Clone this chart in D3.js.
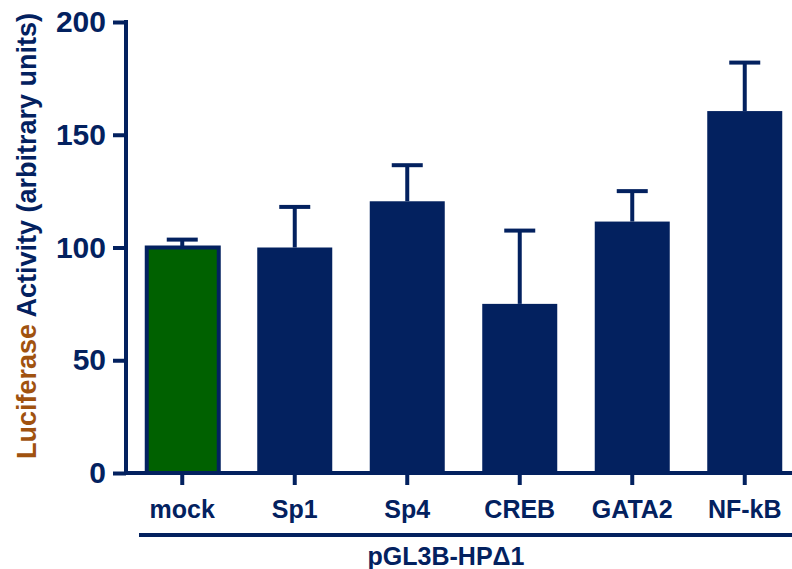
<!DOCTYPE html>
<html>
<head>
<meta charset="utf-8">
<script src="https://cdn.jsdelivr.net/npm/d3@7"></script>
<style>
  html, body { margin: 0; padding: 0; background: #fff; }
  svg { display: block; font-family: "Liberation Sans", Arial, sans-serif; font-weight: bold; }
</style>
</head>
<body>
<svg id="chart" width="792" height="569"></svg>
<script>
// Luciferase reporter activity for pGL3B-HPΔ1 co-transfections
const categories = ["mock", "Sp1", "Sp4", "CREB", "GATA2", "NF-kB"];
const means      = [100, 100, 120.5, 75, 111.5, 160.5];
const errorsUp   = [3.5, 18, 16, 32.5, 13.5, 21.5];
const yTicks     = [0, 50, 100, 150, 200];
const groupLabel = "pGL3B-HPΔ1";

const navy = "#03215F";
const green = "#006100";
const brown = "#A0520F";

const svg = d3.select("#chart");

const y = d3.scaleLinear().domain([0, 200]).range([473, 22]);
const x = d3.scaleBand().domain(categories).range([126, 801])
  .paddingInner(1 / 3).paddingOuter(1 / 6);

// bars
svg.append("g").selectAll("rect")
  .data(categories)
  .join("rect")
  .attr("x", (d, i) => i === 0 ? x(d) + 2 : x(d))
  .attr("width", (d, i) => i === 0 ? x.bandwidth() - 3 : x.bandwidth())
  .attr("y", (d, i) => y(means[i]))
  .attr("height", (d, i) => y(0) - y(means[i]))
  .attr("fill", (d, i) => i === 0 ? green : navy)
  .attr("stroke", navy)
  .attr("stroke-width", (d, i) => i === 0 ? 4 : 0);

// upper error bars
const err = svg.append("g").attr("stroke", navy).attr("stroke-width", 4);
categories.forEach((c, i) => {
  const cx = x(c) + x.bandwidth() / 2;
  err.append("line")
    .attr("x1", cx).attr("x2", cx)
    .attr("y1", y(means[i])).attr("y2", y(means[i] + errorsUp[i]));
  err.append("line")
    .attr("x1", cx - 15.5).attr("x2", cx + 15.5)
    .attr("y1", y(means[i] + errorsUp[i])).attr("y2", y(means[i] + errorsUp[i]));
});

// y axis
const yAxis = svg.append("g")
  .attr("transform", "translate(126,0)")
  .call(d3.axisLeft(y).tickValues(yTicks).tickSize(13).tickSizeOuter(0).tickPadding(7));
yAxis.select(".domain").attr("stroke", navy).attr("stroke-width", 4)
  .attr("d", `M0,${y(200) - 2}V${y(0) + 2}`);
yAxis.selectAll(".tick line").attr("stroke", navy).attr("stroke-width", 4);
yAxis.selectAll(".tick text")
  .attr("fill", navy).attr("font-size", 30).attr("font-weight", "bold")
  .attr("font-family", "Liberation Sans, Arial, sans-serif");

// x axis
const xAxis = svg.append("g")
  .attr("transform", `translate(0,${y(0)})`)
  .call(d3.axisBottom(x).tickSize(12).tickSizeOuter(0).tickPadding(14));
xAxis.select(".domain").attr("stroke", navy).attr("stroke-width", 4)
  .attr("d", "M124,0H792");
xAxis.selectAll(".tick line").attr("stroke", navy).attr("stroke-width", 4);
xAxis.selectAll(".tick text")
  .attr("fill", navy).attr("font-size", 25).attr("font-weight", "bold")
  .attr("font-family", "Liberation Sans, Arial, sans-serif")
  .attr("dy", null)
  .each(function () {
    // centre each label's ink box on a common line
    const t = d3.select(this);
    t.attr("y", 0);
    const b = this.getBBox();
    t.attr("y", 36 - (b.y + b.height / 2));
  });

// group bracket under the categories
svg.append("line")
  .attr("x1", 139).attr("x2", 792)
  .attr("y1", 535).attr("y2", 535)
  .attr("stroke", navy).attr("stroke-width", 4);
svg.append("text")
  .attr("x", 446).attr("y", 565)
  .attr("text-anchor", "middle")
  .attr("font-size", 25).attr("fill", navy)
  .text(groupLabel);

// y axis title
const title = svg.append("text")
  .attr("transform", "translate(36,236) rotate(-90)")
  .attr("text-anchor", "middle")
  .attr("font-size", 27);
title.append("tspan").attr("fill", brown).text("Luciferase");
title.append("tspan").attr("fill", navy).text(" Activity (arbitrary units)");
</script>
</body>
</html>
